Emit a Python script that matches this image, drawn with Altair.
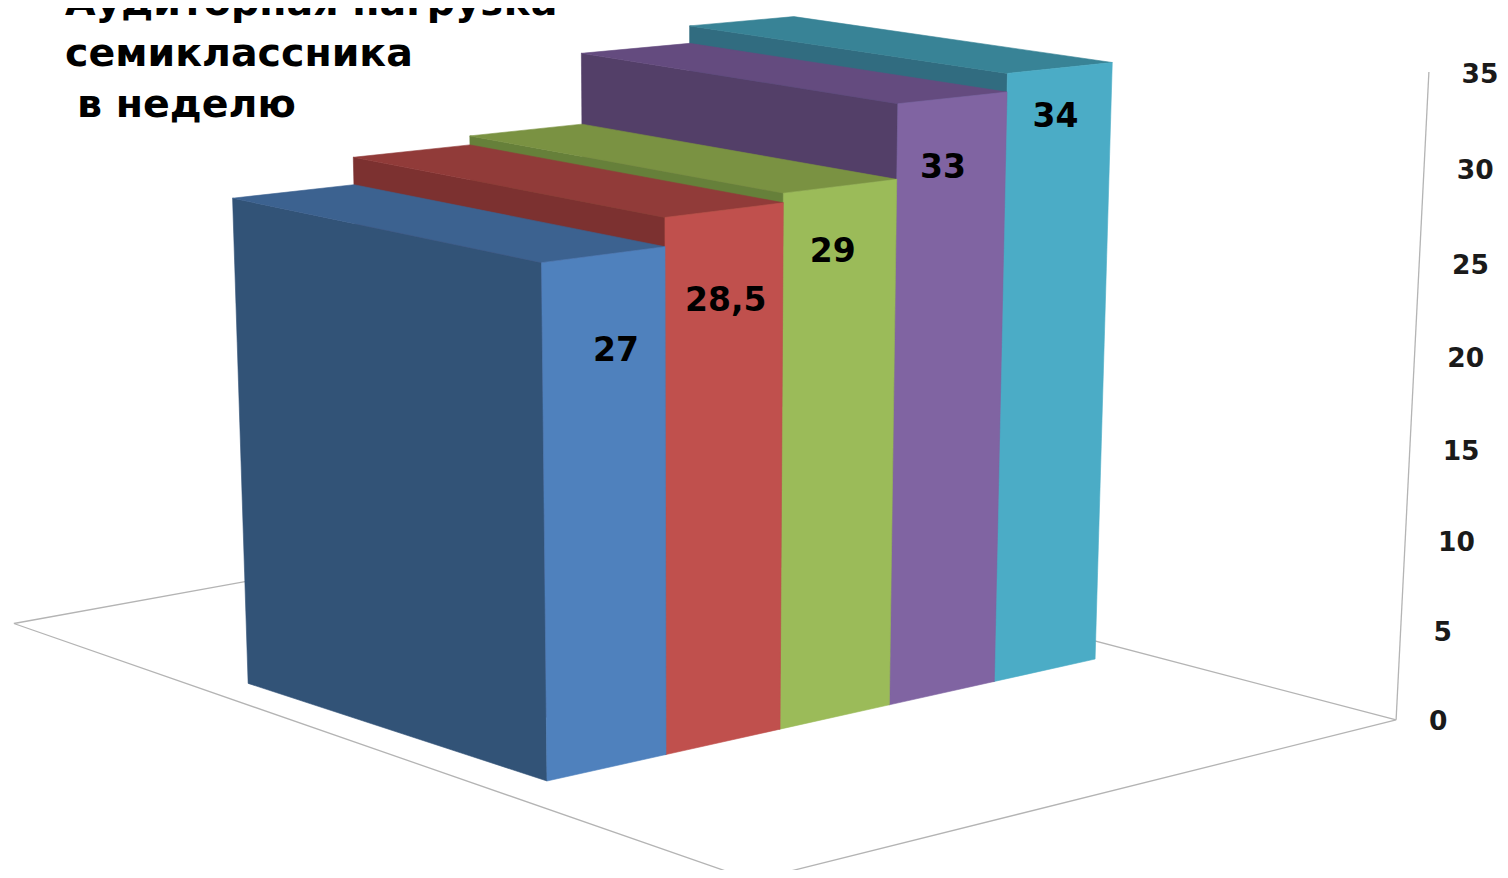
import altair as alt

# ---- chart values ----
labels = ["27", "28,5", "29", "33", "34"]
values = [27, 28.5, 29, 33, 34]
ticks = [0, 5, 10, 15, 20, 25, 30, 35]
title_lines = ["Аудиторная нагрузка", "семиклассника", " в неделю"]
front = ["#4F81BD", "#C0504D", "#9BBB59", "#8064A2", "#4BACC6"]
side = ["#325377", "#7C3130", "#66803A", "#533F68", "#316C80"]
top = ["#3C6290", "#913B39", "#7A9242", "#644B7F", "#388396"]

# ---- camera of the 3-D chart: u along the series, v in depth, h in value units ----
PX = (133.6, -280.7, -0.93, 547.0)
PY = (-9.96, -47.6, -19.55, 781.0)
PW = (0.0219, 0.0732, -0.00134, 1.0)
OFF = 8  # page margin


def project(u, v, h):
    w = PW[0] * u + PW[1] * v + PW[2] * h + PW[3]
    x = (PX[0] * u + PX[1] * v + PX[2] * h + PX[3]) / w - OFF
    y = (PY[0] * u + PY[1] * v + PY[2] * h + PY[3]) / w - OFF
    return [round(x, 2), round(y, 2)]


def face(corners, fill):
    ring = [project(*c) for c in corners]
    ring.append(ring[0])
    return {"type": "Feature", "properties": {"fill": fill},
            "geometry": {"type": "Polygon", "coordinates": [ring]}}


features = []
for i in reversed(range(len(values))):
    h = values[i]
    features.append(face([(i, 0, 0), (i, 1, 0), (i, 1, h), (i, 0, h)], side[i]))
    features.append(face([(i, 0, h), (i, 1, h), (i + 1, 1, h), (i + 1, 0, h)], top[i]))
    features.append(face([(i, 0, 0), (i + 1, 0, 0), (i + 1, 0, h), (i, 0, h)], front[i]))

UR, VF = 5.38, -0.77
AXIS_TOP = 35.35
floor_pts = [project(-0.28, 1.76, 0), project(-0.45, VF, 0), project(UR, VF, 0), project(UR, 1.78, 0)]
floor_pts.append(floor_pts[0])
floor_geo = {"type": "Feature", "properties": {},
             "geometry": {"type": "LineString", "coordinates": floor_pts}}
axis_geo = {"type": "Feature", "properties": {},
            "geometry": {"type": "LineString",
                         "coordinates": [project(UR, VF, 0), project(UR, VF, AXIS_TOP)]}}

proj = dict(type="identity", scale=1, translate=[0, 0])


def geo(feats):
    return alt.InlineData(values={"type": "FeatureCollection", "features": feats},
                          format=alt.DataFormat(property="features", type="json"))


lines = alt.Chart(geo([floor_geo, axis_geo])).mark_geoshape(
    filled=False, stroke="#B4B4B4", strokeWidth=1.3).project(**proj)

faces = alt.Chart(geo(features)).mark_geoshape(strokeWidth=0.6).encode(
    fill=alt.Color("properties.fill:N", scale=None),
    stroke=alt.Stroke("properties.fill:N", scale=None),
).project(**proj)

# data labels
LDX = [12, 1, -8, -10, -5]
LDY = [96, 91, 66, 70, 49]
label_rows = []
for i, (t, v) in enumerate(zip(labels, values)):
    px, py = project(i + 0.5, 0, v)
    label_rows.append({"t": t, "x": px + LDX[i], "y": py + LDY[i]})

data_labels = alt.Chart(alt.Data(values=label_rows)).mark_text(
    font="DejaVu Sans", fontWeight="bold", fontSize=33, color="#000000",
    align="center", baseline="middle",
).encode(x=alt.X("x:Q", scale=None), y=alt.Y("y:Q", scale=None), text="t:N")

# axis tick labels
tick_rows = []
for t in ticks:
    px, py = project(UR, VF, t)
    tick_rows.append({"t": str(t), "x": px + 33, "y": py + 2 - t * 6 / 35})

tick_labels = alt.Chart(alt.Data(values=tick_rows)).mark_text(
    font="DejaVu Sans", fontWeight="bold", fontSize=26.5, color="#1A1A1A",
    align="left", baseline="middle",
).encode(x=alt.X("x:Q", scale=None), y=alt.Y("y:Q", scale=None), text="t:N")

# title
title_rows = [{"t": t, "x": 65 - OFF, "y": 15 - OFF + 51 * i} for i, t in enumerate(title_lines)]
title_rows[2]["x"] = 77 - OFF
title_rows[2]["t"] = title_lines[2].strip()
title = alt.Chart(alt.Data(values=title_rows)).mark_text(
    font="DejaVu Sans", fontWeight="bold", fontSize=39.5, color="#000000",
    align="left", baseline="alphabetic",
).encode(x=alt.X("x:Q", scale=None), y=alt.Y("y:Q", scale=None), text="t:N")

chart = alt.layer(lines, faces, data_labels, tick_labels, title).properties(
    width=1492, height=862, padding=0,
    autosize=alt.AutoSizeParams(type="none"),
).configure_view(stroke=None)

chart.save("out.html", embed_options={"renderer": "svg", "actions": False})
